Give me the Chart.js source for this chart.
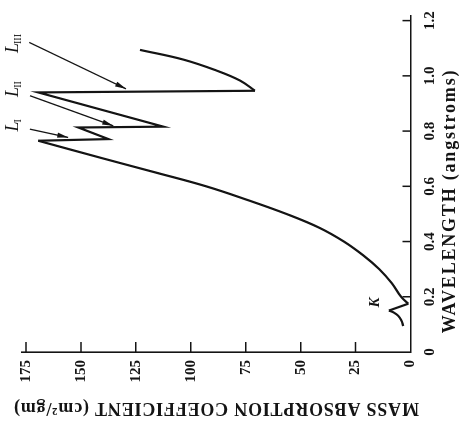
<!DOCTYPE html>
<html>
<head>
<meta charset="utf-8">
<script src="https://cdn.jsdelivr.net/npm/chart.js@4.4.0/dist/chart.umd.min.js"></script>
<style>
  html, body { margin: 0; padding: 0; background: #fff; }
  #page { position: relative; width: 464px; height: 423px; overflow: hidden; background: #fff; }
  /* the printed figure is the usual plot turned a quarter turn counter-clockwise */
  #turn { position: absolute; left: 0; top: 0; width: 423px; height: 464px;
          transform-origin: 0 0; transform: translateY(423px) rotate(-90deg); }
</style>
</head>
<body>
<div id="page"><div id="turn"><canvas id="chart" width="423" height="464"></canvas></div></div>
<script>
// -----------------------------
// Data
// -----------------------------
const wavelengthTicks = [0, 0.2, 0.4, 0.6, 0.8, 1.0, 1.2];
const coefficientTicks = [0, 25, 50, 75, 100, 125, 150, 175];

// short branch below the K edge
const kBranchW = [0.094, 0.115, 0.131, 0.143, 0.150];
const kBranchC = [3.3, 4.2, 5.6, 7.6, 9.8];
// K edge drop
const kEdgeW = [0.150, 0.175];
const kEdgeC = [9.8, 1.0];
// long rise up to the L_I edge
const mainW = [0.175, 0.20, 0.25, 0.30, 0.35, 0.40, 0.45, 0.50, 0.55, 0.60, 0.65, 0.70, 0.765];
const mainC = [1.0, 4.3, 8.6, 14.2, 21.5, 30.3, 41.5, 56.5, 74.0, 93.0, 116.0, 139.5, 169.4];
// L_I, L_II, L_III edges (straight zig-zag)
const lEdgesW = [0.765, 0.771, 0.813, 0.816, 0.878, 0.940, 0.946];
const lEdgesC = [169.4, 137.5, 151.2, 112.5, 141.0, 169.4, 70.8];
// branch past L_III
const tailW = [0.946, 0.983, 1.019, 1.059, 1.094];
const tailC = [70.8, 77.6, 88.2, 103.4, 123.1];

// edge labels and their pointer arrows
const edgeNames = ['I', 'II', 'III'];
const labelW = [0.823, 0.954, 1.119];
const labelC = [180.4, 180.4, 180.4];
const arrowFromW = [0.807, 0.928, 1.121];
const arrowFromC = [173.2, 173.2, 173.5];
const arrowToW = [0.777, 0.819, 0.953];
const arrowToC = [155.8, 135.3, 129.5];
const kLabelW = 0.179;
const kLabelC = 16.3;

// -----------------------------
// Style
// -----------------------------
const SERIF = '"Liberation Serif", "DejaVu Serif", serif';
const INK = '#141414';

function pts(ws, cs) {
  return ws.map((w, i) => ({ x: w, y: cs[i] }));
}

function curve(ws, cs, tension) {
  return {
    data: pts(ws, cs),
    borderColor: INK,
    borderWidth: 2.2,
    pointRadius: 0,
    tension: tension,
    fill: false
  };
}

const datasets = [
  curve(kBranchW, kBranchC, 0.4),
  curve(kEdgeW, kEdgeC, 0),
  curve(mainW, mainC, 0.4),
  curve(lEdgesW, lEdgesC, 0),
  curve(tailW, tailC, 0.4)
];
for (let i = 0; i < edgeNames.length; i++) {
  datasets.push({
    data: pts([arrowFromW[i], arrowToW[i]], [arrowFromC[i], arrowToC[i]]),
    borderColor: INK,
    borderWidth: 1.3,
    pointRadius: 0,
    tension: 0,
    fill: false
  });
}

// -----------------------------
// Extra ink: inward ticks, arrow heads, edge labels, axis titles
// -----------------------------
const inkPlugin = {
  id: 'ink',
  afterDraw(chart) {
    const { ctx, chartArea: a, scales: { x, y } } = chart;
    ctx.save();
    ctx.strokeStyle = INK;
    ctx.fillStyle = INK;

    // tick marks point into the plot
    ctx.lineWidth = 1.5;
    ctx.beginPath();
    wavelengthTicks.forEach(v => {
      if (!v) return;
      const px = x.getPixelForValue(v);
      ctx.moveTo(px, a.bottom);
      ctx.lineTo(px, a.bottom - 8);
    });
    coefficientTicks.forEach(v => {
      if (!v) return;
      const py = y.getPixelForValue(v);
      ctx.moveTo(a.left, py);
      ctx.lineTo(a.left + 10, py);
    });
    ctx.stroke();

    // arrow heads
    for (let i = 0; i < edgeNames.length; i++) {
      const x0 = x.getPixelForValue(arrowFromW[i]), y0 = y.getPixelForValue(arrowFromC[i]);
      const x1 = x.getPixelForValue(arrowToW[i]), y1 = y.getPixelForValue(arrowToC[i]);
      ctx.save();
      ctx.translate(x1, y1);
      ctx.rotate(Math.atan2(y1 - y0, x1 - x0));
      ctx.beginPath();
      ctx.moveTo(0, 0);
      ctx.lineTo(-11, -2.6);
      ctx.lineTo(-11, 2.6);
      ctx.closePath();
      ctx.fill();
      ctx.restore();
    }

    // L edge labels: italic L with small roman subscript
    ctx.textBaseline = 'alphabetic';
    ctx.textAlign = 'left';
    for (let i = 0; i < edgeNames.length; i++) {
      const cx = x.getPixelForValue(labelW[i]);
      const cy = y.getPixelForValue(labelC[i]);
      ctx.font = 'italic 18px ' + SERIF;
      const wL = ctx.measureText('L').width;
      ctx.font = '10px ' + SERIF;
      const wS = ctx.measureText(edgeNames[i]).width;
      const sx = cx - (wL + wS) / 2;
      ctx.font = 'italic 18px ' + SERIF;
      ctx.fillText('L', sx, cy + 4);
      ctx.font = '10px ' + SERIF;
      ctx.fillText(edgeNames[i], sx + wL - 1, cy + 7);
    }
    ctx.font = 'italic bold 15px ' + SERIF;
    ctx.textAlign = 'center';
    ctx.textBaseline = 'middle';
    ctx.fillText('K', x.getPixelForValue(kLabelW), y.getPixelForValue(kLabelC));

    // axis titles
    if ('letterSpacing' in ctx) ctx.letterSpacing = '1.8px';
    ctx.font = 'bold 18px ' + SERIF;
    ctx.fillText('WAVELENGTH (angstroms)', a.left + 151, a.bottom + 40);

    if ('letterSpacing' in ctx) ctx.letterSpacing = '0.8px';
    ctx.translate(a.left - 56, (a.top + a.bottom) / 2);
    ctx.rotate(-Math.PI / 2);
    ctx.fillText('MASS ABSORPTION COEFFICIENT (cm\u00B2/gm)', 0, 0);
    ctx.restore();
  }
};

// -----------------------------
// Chart
// -----------------------------
const tickFont = { family: SERIF, size: 15, weight: 'bold' };

new Chart(document.getElementById('chart'), {
  type: 'line',
  data: { datasets },
  options: {
    responsive: false,
    animation: false,
    devicePixelRatio: 1,
    layout: { padding: { left: 0, right: 14.5, top: 21.6, bottom: 0 } },
    plugins: { legend: { display: false }, tooltip: { enabled: false } },
    scales: {
      x: {
        type: 'linear',
        min: 0,
        max: 1.22,
        afterBuildTicks: s => { s.ticks = wavelengthTicks.map(v => ({ value: v })); },
        afterFit: s => { s.height = 53.5; },
        grid: { display: true, drawOnChartArea: false, drawTicks: false },
        border: { display: true, color: INK, width: 1.6 },
        ticks: {
          color: INK,
          font: tickFont,
          padding: 11,
          maxRotation: 0,
          callback: v => (v === 0 ? '0' : v.toFixed(1))
        }
      },
      y: {
        type: 'linear',
        min: 0,
        max: 177,
        afterBuildTicks: s => { s.ticks = coefficientTicks.map(v => ({ value: v })); },
        afterFit: s => { s.width = 71; },
        grid: { display: true, drawOnChartArea: false, drawTicks: false },
        border: { display: true, color: INK, width: 1.6 },
        ticks: {
          color: INK,
          font: tickFont,
          padding: 8,
          callback: v => String(v)
        }
      }
    }
  },
  plugins: [inkPlugin]
});
</script>
</body>
</html>
